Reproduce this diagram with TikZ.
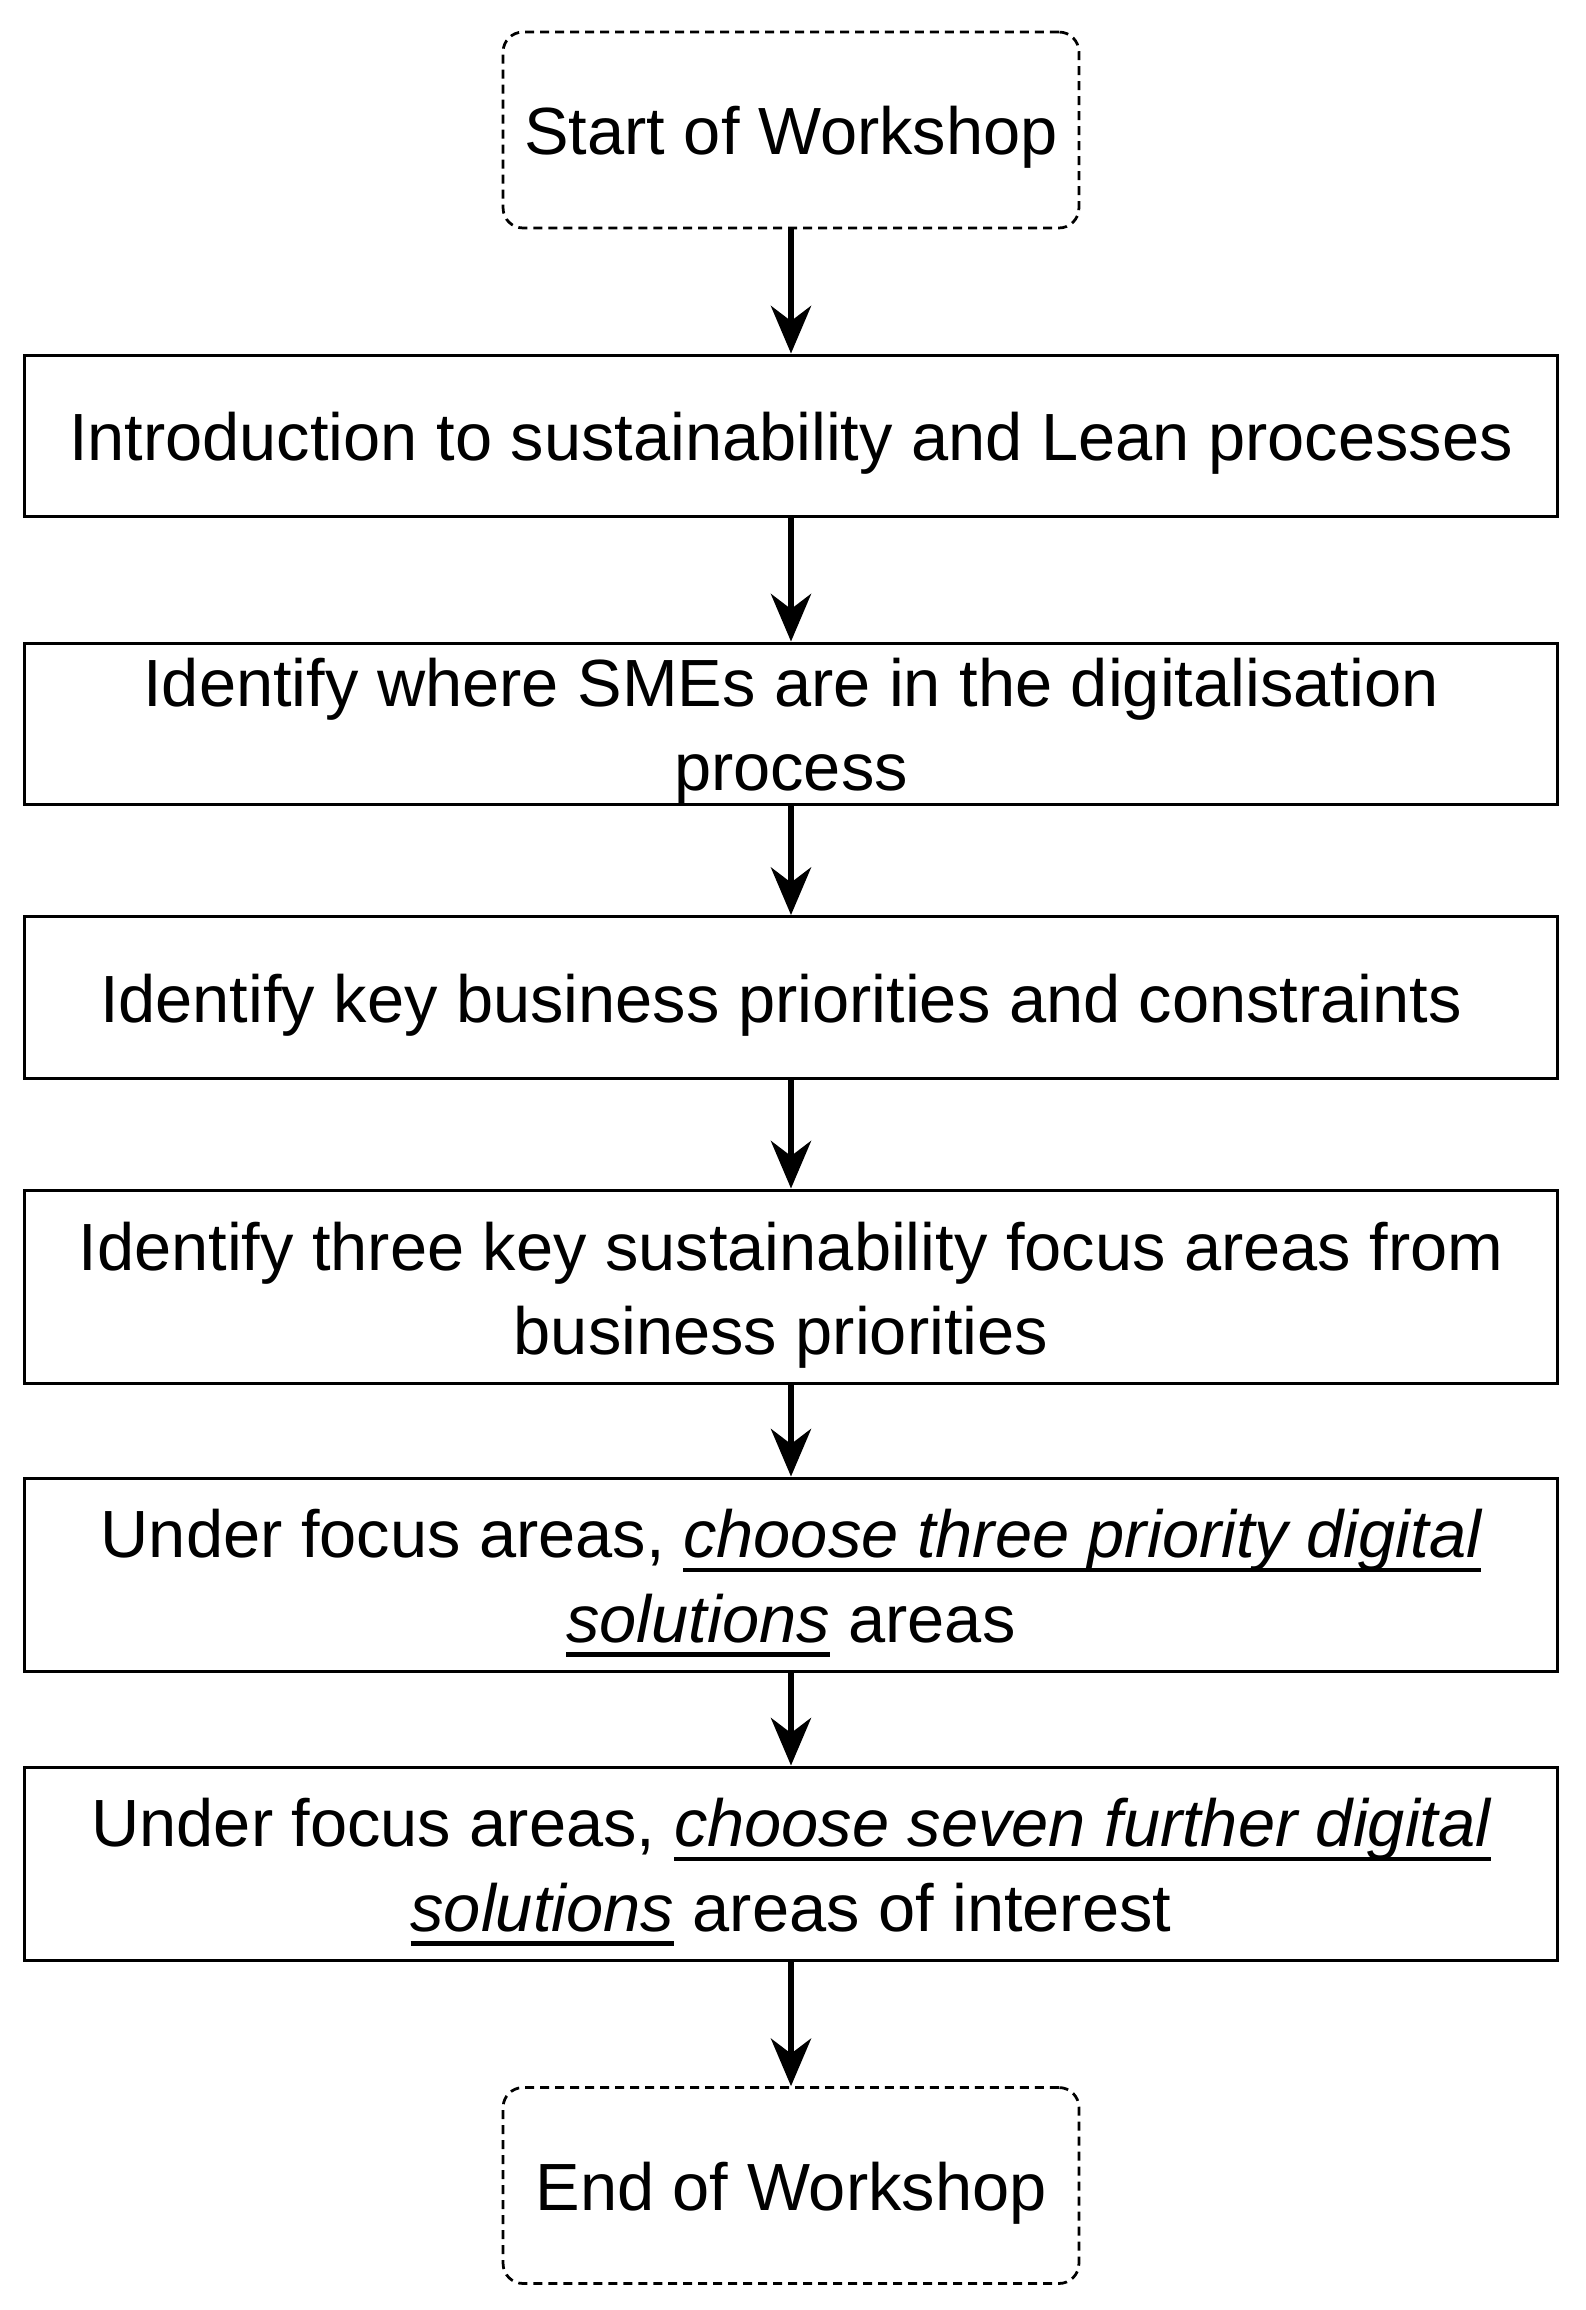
\documentclass[tikz,border=0pt]{standalone}
\usepackage{fontspec}
\setmainfont{Liberation Sans}
\usetikzlibrary{arrows.meta}
\newsavebox{\ulbox}
\newcommand{\ulit}[1]{\sbox{\ulbox}{\itshape #1}\rlap{\rule[-0.29cm]{\wd\ulbox}{0.09cm}}\usebox{\ulbox}}
\newcommand{\lift}{\rule{0pt}{1.31cm}}
\begin{document}
\begin{tikzpicture}[x=0.02cm,y=-0.02cm,
  txt/.style={inner sep=0pt,font=\fontsize{38}{48}\selectfont,execute at begin node={\rule{0pt}{1.26cm}}},
  box/.style={txt,draw,line width=0.06cm,minimum width=30.66cm,minimum height=3.24cm,align=center},
  tall/.style={minimum height=3.86cm},
  term/.style={txt,draw,line width=0.055cm,dash pattern=on 0.18cm off 0.12cm,rounded corners=0.4cm,minimum width=11.52cm,minimum height=3.92cm},
  flow/.style={line width=0.13cm,-{Stealth[length=0.95cm,width=0.8cm,inset=0.3cm]}}]
\useasboundingbox (0,0) rectangle (1586,2310);
\node[term] (start) at (791,130) {Start of Workshop};
\node[box] (intro) at (791,436) {Introduction to sustainability and Lean processes};
\node[box] (where) at (791,724) {Identify where SMEs are in the digitalisation\\\smash{process}};
\node[box] (prio) at (791,997.5) {Identify key business priorities and constraints\hspace*{0.4cm}};
\node[box,tall] (focus) at (791,1286.5) {\lift Identify three key sustainability focus areas from\\business priorities\hspace*{0.4cm}};
\node[box,tall] (three) at (791,1574.5) {\lift Under focus areas, \ulit{choose three priority digital}\\\ulit{solutions} areas};
\node[box,tall] (seven) at (791,1863.5) {\lift Under focus areas, \ulit{choose seven further digital}\\\ulit{solutions} areas of interest};
\node[term] (stop) at (791,2185.5) {End of Workshop};
\draw[flow] (start) -- (intro);
\draw[flow] (intro) -- (where);
\draw[flow] (where) -- (prio);
\draw[flow] (prio) -- (focus);
\draw[flow] (focus) -- (three);
\draw[flow] (three) -- (seven);
\draw[flow] (seven) -- (stop);
\end{tikzpicture}
\end{document}
